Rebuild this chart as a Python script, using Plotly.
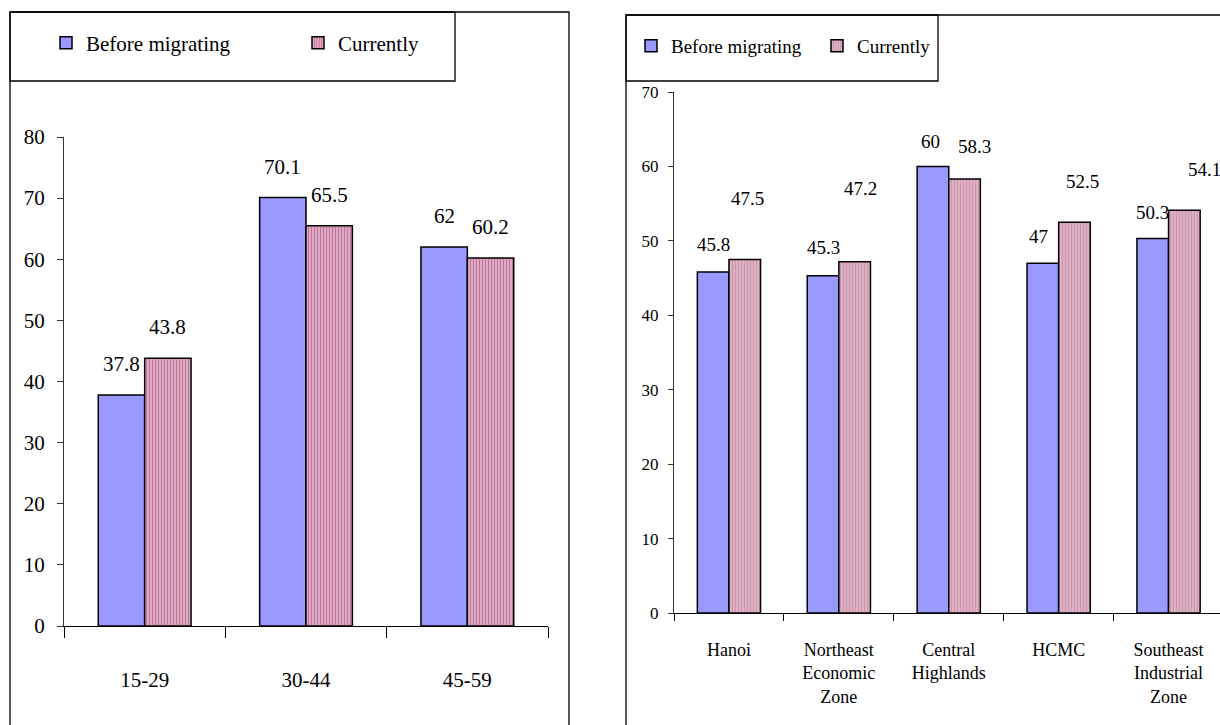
import plotly.graph_objects as go

W, H = 1220, 725

# ---------------- data ----------------
series_names = ["Before migrating", "Currently"]

age_groups = ["15-29", "30-44", "45-59"]
age_before = [37.8, 70.1, 62]
age_current = [43.8, 65.5, 60.2]

regions = ["Hanoi", "Northeast<br>Economic<br>Zone", "Central<br>Highlands",
           "HCMC", "Southeast<br>Industrial<br>Zone"]
region_before = [45.8, 45.3, 60, 47, 50.3]
region_current = [47.5, 47.2, 58.3, 52.5, 54.1]

# ---------------- styling / placement ----------------
FONT = "Liberation Serif"
BLUE = "#9999FF"
PINK_BG = "#E2AFC6"
PINK_FG = "#9E3C6C"
PINK_BG2 = "#DDB0C4"
PINK_FG2 = "#BC7C9A"
BARGAP = 0.425

# label offsets above bar tops (px)
left_dy_before = [31, 31, 31]
left_dy_current = [31, 31, 31]
right_dy_before = [28, 28, 25, 27, 26]
right_dy_current = [61, 73, 33, 41, 41]
right_dx_before = [0, 0, -2, -4, 0]
right_dx_current = [3, 6, 10, 8, 20]


def px_x(p):
    return p / W


def px_y(p):
    return 1 - p / H


fig = go.Figure()

# Left chart
fig.add_trace(go.Bar(
    x=age_groups, y=age_before, name=series_names[0],
    marker=dict(color=BLUE, line=dict(color="black", width=1.5)),
    xaxis="x", yaxis="y", legend="legend"))
fig.add_trace(go.Bar(
    x=age_groups, y=age_current, name=series_names[1],
    marker=dict(color=PINK_BG, line=dict(color="black", width=1.5),
                pattern=dict(shape="|", fgcolor=PINK_FG, bgcolor=PINK_BG,
                             size=3, solidity=0.4)),
    xaxis="x", yaxis="y", legend="legend"))

# Right chart
fig.add_trace(go.Bar(
    x=regions, y=region_before, name=series_names[0],
    marker=dict(color=BLUE, line=dict(color="black", width=1.5)),
    xaxis="x2", yaxis="y2", legend="legend2"))
fig.add_trace(go.Bar(
    x=regions, y=region_current, name=series_names[1],
    marker=dict(color=PINK_BG2, line=dict(color="black", width=1.5),
                pattern=dict(shape="|", fgcolor=PINK_FG2, bgcolor=PINK_BG2,
                             size=3, solidity=0.35)),
    xaxis="x2", yaxis="y2", legend="legend2"))

half = (1 - BARGAP) / 4
annotations = []
for i, (b, c) in enumerate(zip(age_before, age_current)):
    annotations.append(dict(x=i - half, y=b, xref="x", yref="y", text=f"{b:g}",
                            showarrow=False, yshift=left_dy_before[i], yanchor="middle",
                            font=dict(family=FONT, size=21, color="black")))
    annotations.append(dict(x=i + half, y=c, xref="x", yref="y", text=f"{c:g}",
                            showarrow=False, yshift=left_dy_current[i], yanchor="middle",
                            font=dict(family=FONT, size=21, color="black")))
for i, (b, c) in enumerate(zip(region_before, region_current)):
    annotations.append(dict(x=i - half, y=b, xref="x2", yref="y2", text=f"{b:g}",
                            showarrow=False, yshift=right_dy_before[i],
                            xshift=right_dx_before[i], yanchor="middle",
                            font=dict(family=FONT, size=19, color="black")))
    annotations.append(dict(x=i + half, y=c, xref="x2", yref="y2", text=f"{c:g}",
                            showarrow=False, yshift=right_dy_current[i],
                            xshift=right_dx_current[i], yanchor="middle",
                            font=dict(family=FONT, size=19, color="black")))

shapes = [
    # left outer frame
    dict(type="rect", xref="paper", yref="paper", x0=px_x(10), x1=px_x(569),
         y0=-0.1, y1=px_y(12), line=dict(color="black", width=1.3)),
    # left legend box
    dict(type="rect", xref="paper", yref="paper", x0=px_x(10), x1=px_x(455),
         y0=px_y(81), y1=px_y(12), line=dict(color="black", width=1.3)),
    # right outer frame
    dict(type="rect", xref="paper", yref="paper", x0=px_x(626), x1=1.1,
         y0=-0.1, y1=px_y(15), line=dict(color="black", width=1.3)),
    # right legend box
    dict(type="rect", xref="paper", yref="paper", x0=px_x(626), x1=px_x(938),
         y0=px_y(81), y1=px_y(15), line=dict(color="black", width=1.3)),
]

# right x range so that the axis reaches the page edge (last category cut)
cat_px = 109.9
right_end = -0.5 + (W - 674) / cat_px

fig.update_layout(
    width=W, height=H,
    margin=dict(l=0, r=0, t=0, b=0, autoexpand=False),
    paper_bgcolor="white", plot_bgcolor="white",
    barmode="group", bargap=BARGAP, bargroupgap=0,
    font=dict(family=FONT, color="black"),
    xaxis=dict(domain=[px_x(64), px_x(548)], anchor="y", type="category",
               showline=True, linecolor="black", linewidth=1.2,
               ticks="outside", tickson="boundaries", ticklen=11, tickcolor="black",
               tickfont=dict(family=FONT, size=21), ticklabelstandoff=35,
               showgrid=False, zeroline=False),
    yaxis=dict(domain=[px_y(626), px_y(137)], anchor="x", range=[0, 80], dtick=10,
               showline=True, linecolor="#333", linewidth=1.2,
               ticks="outside", ticklen=6, tickcolor="#333",
               tickfont=dict(family=FONT, size=21), ticklabelstandoff=8,
               showgrid=False, zeroline=False),
    xaxis2=dict(domain=[px_x(674), 1.0], anchor="y2", type="category",
                range=[-0.5, right_end],
                showline=True, linecolor="black", linewidth=1.2,
                ticks="outside", tickson="boundaries", ticklen=7, tickcolor="black",
                tickfont=dict(family=FONT, size=18), ticklabelstandoff=20,
                showgrid=False, zeroline=False),
    yaxis2=dict(domain=[px_y(613), px_y(92)], anchor="x2", range=[0, 70], dtick=10,
                showline=True, linecolor="#333", linewidth=1.2,
                ticks="outside", ticklen=5, tickcolor="#333",
                tickfont=dict(family=FONT, size=17), ticklabelstandoff=6,
                showgrid=False, zeroline=False),
    legend=dict(orientation="h", x=px_x(46), xanchor="left", y=px_y(43), yanchor="middle",
                bgcolor="rgba(0,0,0,0)", borderwidth=0,
                entrywidth=207, entrywidthmode="pixels",
                font=dict(family=FONT, size=21, color="black")),
    legend2=dict(orientation="h", x=px_x(631), xanchor="left", y=px_y(46), yanchor="middle",
                 bgcolor="rgba(0,0,0,0)", borderwidth=0,
                 entrywidth=141, entrywidthmode="pixels",
                 font=dict(family=FONT, size=19, color="black")),
    showlegend=True,
    annotations=annotations,
    shapes=shapes,
)

fig.write_html("out.html", config={"displayModeBar": False},
               post_script="document.body.style.margin='0';")
